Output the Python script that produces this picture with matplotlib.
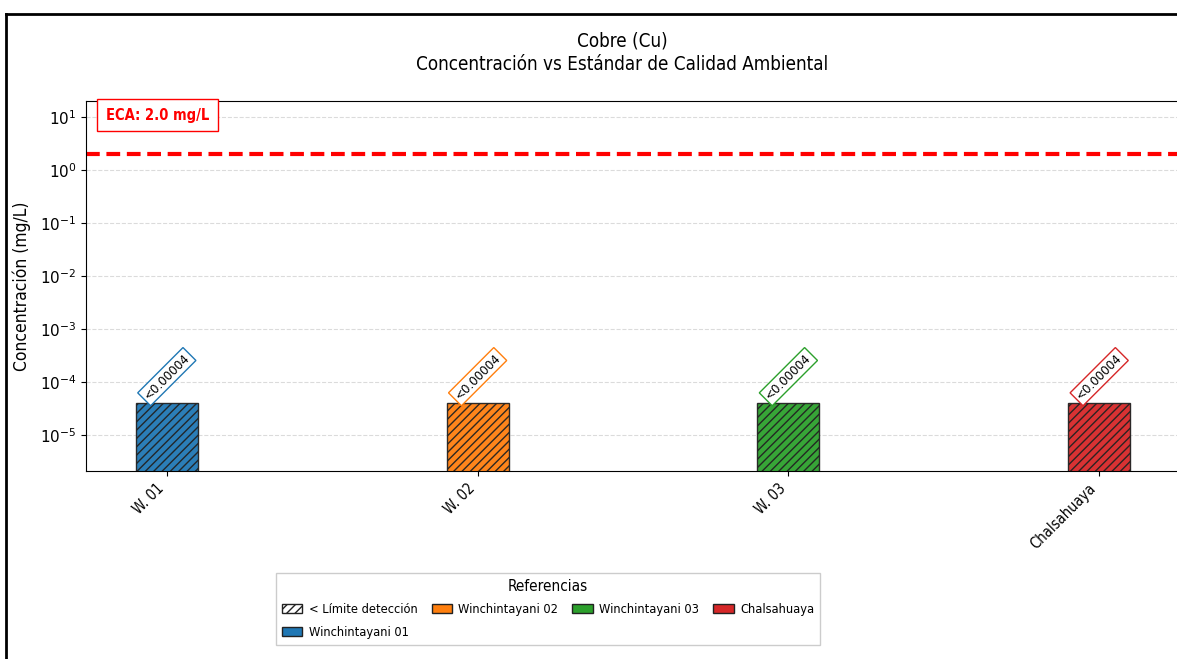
import matplotlib
matplotlib.use('Agg')
import matplotlib.pyplot as plt
from matplotlib.patches import Patch
from matplotlib.lines import Line2D
from matplotlib.font_manager import FontProperties

# sample points and measured copper concentration (mg/L)
estaciones = ['W. 01', 'W. 02', 'W. 03', 'Chalsahuaya']
nombres = ['Winchintayani 01', 'Winchintayani 02', 'Winchintayani 03', 'Chalsahuaya']
valores = [0.00004, 0.00004, 0.00004, 0.00004]
etiquetas = ['<0.00004', '<0.00004', '<0.00004', '<0.00004']
colores = ['#1f77b4', '#ff7f0e', '#2ca02c', '#d62728']
eca = 2.0


def main():
	fig = plt.figure(figsize=(11.77, 6.59), dpi=100)
	ax = fig.add_axes([86 / 1177, 188 / 659, 1094 / 1177, 370 / 659])

	x = list(range(len(estaciones)))
	ax.bar(x, valores, width=0.2, color=colores, edgecolor='#222222',
		hatch='////', linewidth=1, alpha=0.95)

	ax.set_yscale('log')
	ax.set_ylim(2.1e-6, 20)
	ax.set_xlim(-0.26, 3.26)

	ax.axhline(eca, color='red', linestyle='--', linewidth=3, dashes=(3.3, 1.6))
	ax.text(0.018, 0.962, 'ECA: ' + str(eca) + ' mg/L', transform=ax.transAxes,
		color='red', fontsize=10.5, fontweight='bold', va='center', ha='left',
		fontstretch='condensed',
		bbox=dict(boxstyle='square,pad=0.6', facecolor='white', edgecolor='red'))

	# detection limit labels above each bar
	for i in range(len(x)):
		ax.text(x[i], valores[i] * 1.05, etiquetas[i], rotation=45,
			ha='center', va='bottom', fontsize=9.5, fontstretch='condensed',
			bbox=dict(boxstyle='square,pad=0.2', facecolor='white',
				edgecolor=colores[i], linewidth=1))

	ax.set_xticks(x)
	ax.set_xticklabels(estaciones, rotation=45, ha='right', fontsize=10.5,
		fontstretch='condensed')
	ax.set_ylabel('Concentración (mg/L)', fontsize=12.5, labelpad=6,
		fontstretch='condensed')
	ax.tick_params(axis='y', labelsize=11)
	ax.minorticks_off()
	ax.grid(axis='y', linestyle='--', color='#cccccc', alpha=0.7)
	ax.set_axisbelow(True)
	ax.spines['right'].set_visible(False)

	ax.set_title('Cobre (Cu)\nConcentración vs Estándar de Calidad Ambiental',
		fontsize=13.5, pad=22, x=0.49, linespacing=1.3, fontstretch='condensed')

	handles = [Patch(facecolor='white', edgecolor='#222222', hatch='////',
		label='< Límite detección')]
	for i in range(len(nombres)):
		handles.append(Patch(facecolor=colores[i], edgecolor='#222222', label=nombres[i]))
	leg = fig.legend(handles=handles, title='Referencias', ncol=4,
		prop=FontProperties(size=9.2, stretch='condensed'),
		loc='lower center', bbox_to_anchor=(548 / 1177, 8 / 659),
		frameon=True, framealpha=1, edgecolor='#cccccc', fancybox=False,
		handlelength=1.6, handleheight=0.7, columnspacing=1.1, handletextpad=0.5,
		labelspacing=0.75, borderpad=0.45)
	leg.get_title().set_fontstretch('condensed')
	leg.get_title().set_fontsize(11)

	# outer frame around the figure
	fig.add_artist(Line2D([6 / 1177, 1.0], [1 - 14 / 659, 1 - 14 / 659],
		transform=fig.transFigure, color='black', linewidth=2))
	fig.add_artist(Line2D([6 / 1177, 6 / 1177], [0, 1 - 14 / 659],
		transform=fig.transFigure, color='black', linewidth=2))

	fig.savefig('out.png', dpi=100)


if __name__ == '__main__':
	main()
